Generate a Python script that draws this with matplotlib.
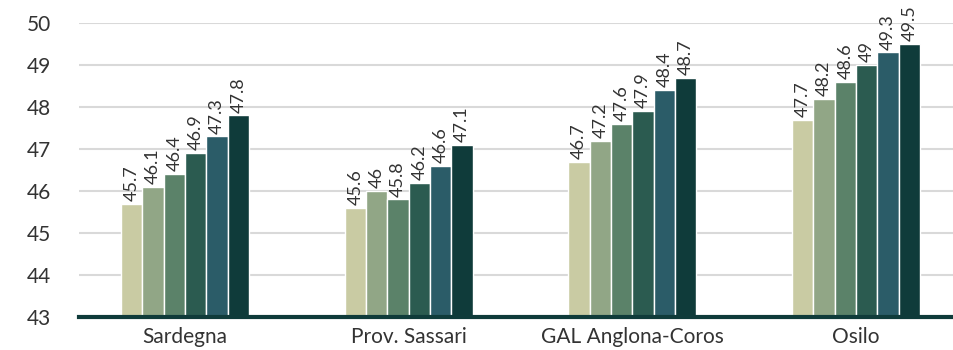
import matplotlib.pyplot as plt
import numpy as np

# Areas and values per series (six consecutive periods)
areas = ["Sardegna", "Prov. Sassari", "GAL Anglona-Coros", "Osilo"]
serie_1 = [45.7, 45.6, 46.7, 47.7]
serie_2 = [46.1, 46.0, 47.2, 48.2]
serie_3 = [46.4, 45.8, 47.6, 48.6]
serie_4 = [46.9, 46.2, 47.9, 49.0]
serie_5 = [47.3, 46.6, 48.4, 49.3]
serie_6 = [47.8, 47.1, 48.7, 49.5]
y_ticks = [43, 44, 45, 46, 47, 48, 49, 50]

series = [serie_1, serie_2, serie_3, serie_4, serie_5, serie_6]
colors = ["#C9CBA3", "#91A686", "#5B8269", "#2B5B50", "#2B5C68", "#0F3B3A"]

plt.rcParams["font.family"] = ["Lato", "DejaVu Sans"]

fig = plt.figure(figsize=(9.54, 3.5), dpi=100)
ax = fig.add_axes([79 / 954, 33 / 350, 875 / 954, 294 / 350])

x = np.arange(len(areas))
width = 0.0955
offsets = (np.arange(len(series)) - (len(series) - 1) / 2) * width

for vals, off, col in zip(series, offsets, colors):
    bars = ax.bar(x + off, vals, width=width, color=col, edgecolor="white",
                  linewidth=1.0, zorder=3)
    for b, v in zip(bars, vals):
        ax.annotate(f"{v:g}", (b.get_x() + b.get_width() / 2, v),
                    xytext=(0, 2), textcoords="offset points",
                    rotation=90, ha="center", va="bottom",
                    fontsize=13, color="#333333", annotation_clip=False)

ax.set_ylim(43, 50)
ax.set_xlim(-0.474, 3.438)
ax.set_yticks(y_ticks)
ax.set_xticks(x)
ax.set_xticklabels(areas)
ax.tick_params(length=0, labelsize=15, colors="#333333")
ax.tick_params(axis="x", pad=7)
ax.tick_params(axis="y", pad=20)

ax.grid(axis="y", color="#D9D9D9", linewidth=1.5, zorder=0)
for side in ["top", "right", "left"]:
    ax.spines[side].set_visible(False)
ax.spines["bottom"].set_color("#0F3B3A")
ax.spines["bottom"].set_linewidth(3)
ax.spines["bottom"].set_zorder(4)

fig.savefig("out.png", dpi=100)
